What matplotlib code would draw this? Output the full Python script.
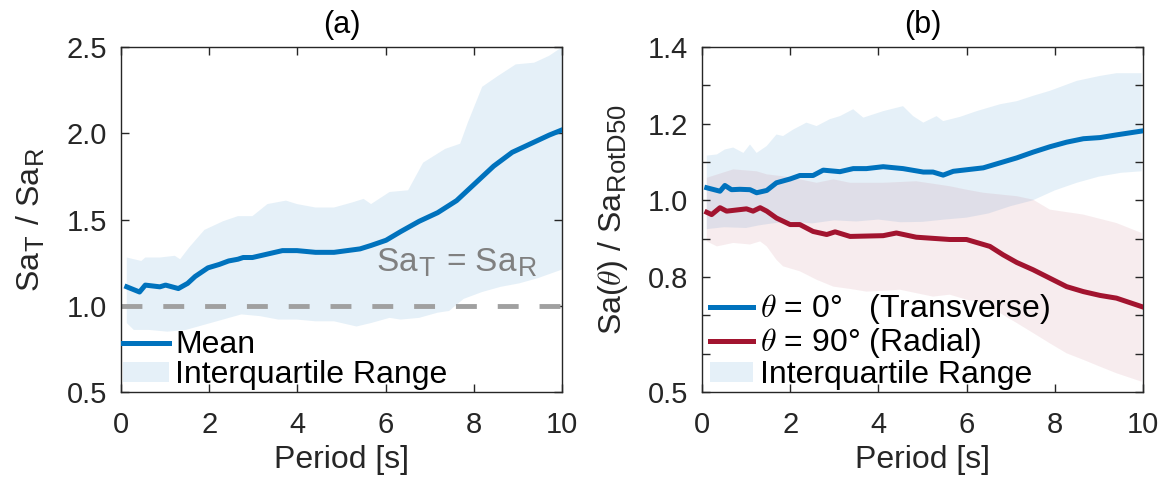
import matplotlib
matplotlib.use('Agg')
import matplotlib.pyplot as plt
import matplotlib._mathtext as mathtext_mod
import numpy as np
from matplotlib.patches import Patch
from matplotlib.lines import Line2D

# ---- panel (a): Sa_T / Sa_R ----
a_mean_x = [0.13, 0.42, 0.55, 0.88, 1.01, 1.30, 1.51, 1.68, 1.97, 2.23, 2.44, 2.65, 2.77, 2.98,
            3.32, 3.66, 3.99, 4.41, 4.83, 5.42, 5.67, 6.01, 6.34, 6.76, 7.18, 7.61, 8.03, 8.45,
            8.87, 9.29, 9.71, 10.0]
a_mean_y = [1.11, 1.08, 1.12, 1.11, 1.12, 1.10, 1.13, 1.17, 1.22, 1.24, 1.26, 1.27, 1.28, 1.28,
            1.30, 1.32, 1.32, 1.31, 1.31, 1.33, 1.35, 1.38, 1.43, 1.49, 1.54, 1.61, 1.71, 1.81,
            1.89, 1.94, 1.99, 2.02]
a_up_x = [0.13, 0.46, 0.55, 0.88, 1.22, 1.34, 1.55, 1.89, 2.31, 2.65, 2.98, 3.32, 3.74, 3.99,
          4.41, 4.83, 5.25, 5.50, 5.67, 6.09, 6.51, 6.85, 7.35, 7.69, 7.86, 8.19, 8.53, 8.95,
          9.37, 9.71, 10.0]
a_up_y = [1.28, 1.26, 1.28, 1.28, 1.29, 1.27, 1.34, 1.44, 1.49, 1.52, 1.52, 1.59, 1.61, 1.59,
          1.57, 1.57, 1.60, 1.62, 1.59, 1.66, 1.67, 1.83, 1.91, 1.94, 2.06, 2.27, 2.33, 2.40,
          2.41, 2.45, 2.50]
a_lo_x = [0.13, 0.29, 0.63, 1.05, 1.47, 1.89, 2.31, 2.73, 3.15, 3.57, 3.99, 4.41, 4.83, 5.34,
          5.67, 6.09, 6.34, 6.76, 7.18, 7.44, 7.77, 8.19, 8.61, 9.03, 9.45, 10.0]
a_lo_y = [0.90, 0.86, 0.86, 0.85, 0.86, 0.89, 0.92, 0.95, 0.94, 0.92, 0.92, 0.91, 0.91, 0.88,
          0.90, 0.93, 0.92, 0.93, 0.96, 0.97, 1.04, 1.08, 1.11, 1.13, 1.16, 1.21]

# ---- panel (b): Sa(theta) / Sa_RotD50 ----
b_tr_x = [0.11, 0.41, 0.52, 0.67, 0.86, 1.09, 1.24, 1.47, 1.69, 2.00, 2.22, 2.52, 2.75, 3.13,
          3.43, 3.73, 4.11, 4.56, 5.02, 5.24, 5.47, 5.70, 6.38, 6.76, 7.14, 7.51, 7.89, 8.27,
          8.65, 9.03, 9.40, 9.97]
b_tr_y = [1.033, 1.024, 1.039, 1.028, 1.029, 1.028, 1.020, 1.026, 1.046, 1.056, 1.065, 1.065,
          1.079, 1.075, 1.083, 1.083, 1.088, 1.083, 1.074, 1.074, 1.066, 1.076, 1.085, 1.098,
          1.111, 1.126, 1.140, 1.152, 1.161, 1.164, 1.171, 1.181]
b_tr_up_x = [0.11, 0.34, 0.52, 0.71, 0.94, 1.09, 1.24, 1.47, 1.69, 1.84, 2.07, 2.37, 2.60, 2.90,
             3.13, 3.43, 3.66, 4.11, 4.56, 4.79, 5.02, 5.32, 5.47, 5.85, 6.23, 6.76, 7.14, 7.51,
             7.89, 8.50, 9.03, 9.40, 9.97]
b_tr_up_y = [1.117, 1.120, 1.133, 1.138, 1.124, 1.146, 1.124, 1.142, 1.172, 1.168, 1.185, 1.203,
             1.194, 1.212, 1.220, 1.238, 1.216, 1.233, 1.246, 1.220, 1.203, 1.220, 1.207, 1.218,
             1.233, 1.251, 1.259, 1.273, 1.286, 1.312, 1.325, 1.332, 1.332]
b_tr_lo_x = [0.11, 0.5, 1.0, 1.3, 1.6, 2.0, 2.5, 3.0, 3.5, 4.0, 4.5, 5.0, 5.5, 6.0, 6.5, 7.0,
             7.5, 8.0, 8.5, 9.0, 9.5, 9.97]
b_tr_lo_y = [0.925, 0.930, 0.928, 0.935, 0.940, 0.945, 0.940, 0.948, 0.945, 0.950, 0.943, 0.944,
             0.950, 0.955, 0.966, 0.985, 1.000, 1.026, 1.046, 1.062, 1.072, 1.076]

b_ra_x = [0.11, 0.22, 0.41, 0.56, 0.86, 1.01, 1.16, 1.32, 1.47, 1.69, 2.00, 2.22, 2.52, 2.83,
          3.02, 3.36, 4.11, 4.41, 4.86, 5.62, 6.00, 6.53, 6.83, 7.14, 7.51, 7.89, 8.27, 8.65,
          9.03, 9.40, 9.97]
b_ra_y = [0.969, 0.963, 0.981, 0.972, 0.976, 0.978, 0.972, 0.981, 0.972, 0.954, 0.937, 0.937,
          0.919, 0.911, 0.918, 0.906, 0.908, 0.915, 0.904, 0.898, 0.898, 0.880, 0.858, 0.838,
          0.819, 0.797, 0.775, 0.762, 0.752, 0.745, 0.723]
b_ra_up_x = [0.11, 0.71, 1.24, 1.47, 1.84, 2.22, 2.60, 2.98, 3.36, 4.11, 4.86, 5.62, 6.00,
             6.38, 7.14, 7.51, 7.89, 8.65, 9.40, 9.97]
b_ra_up_y = [1.059, 1.081, 1.076, 1.068, 1.063, 1.055, 1.046, 1.055, 1.046, 1.046, 1.050, 1.037,
             1.028, 1.020, 1.011, 1.002, 0.976, 0.963, 0.941, 0.915]
b_ra_lo_x = [0.11, 0.34, 0.71, 1.09, 1.32, 1.47, 1.69, 1.84, 2.22, 2.60, 2.98, 3.36, 3.73,
             4.11, 4.49, 4.86, 5.24, 5.62, 6.00, 6.38, 6.76, 7.14, 7.51, 7.89, 8.27, 8.65,
             9.03, 9.40, 9.97]
b_ra_lo_y = [0.893, 0.880, 0.889, 0.885, 0.893, 0.880, 0.845, 0.828, 0.815, 0.793, 0.775,
             0.769, 0.762, 0.764, 0.767, 0.758, 0.749, 0.754, 0.741, 0.732, 0.706, 0.680,
             0.654, 0.627, 0.601, 0.584, 0.566, 0.549, 0.527]

x_ticks = [0, 2, 4, 6, 8, 10]
a_yticks = [0.5, 1.0, 1.5, 2.0, 2.5]
a_yticklabels = ['0.5', '1.0', '1.5', '2.0', '2.5']
b_yticks = [0.5, 0.6, 0.7, 0.8, 0.9, 1.0, 1.1, 1.2, 1.3, 1.4]
b_yticklabels = ['0.5', '', '', '0.8', '', '1.0', '', '1.2', '', '1.4']

BLUE = '#0072BD'
RED = '#A2142F'
AXC = '#262626'
TSIZE = 21
LSIZE = 23
GSIZE = 24
LEGSIZE = 23

# MATLAB-style larger subscripts
mathtext_mod.SHRINK_FACTOR = 0.8


def band(ax, ux, uy, lx, ly, color, alpha):
  px = np.concatenate([ux, lx[::-1]])
  py = np.concatenate([uy, ly[::-1]])
  ax.fill(px, py, color=color, alpha=alpha, lw=0, zorder=1)


def finish(ax, yticks, yticklabels, ylim):
  ax.set_xlim(0, 10)
  ax.set_ylim(*ylim)
  ax.set_xticks(x_ticks)
  ax.set_xticklabels([str(v) for v in x_ticks])
  ax.set_yticks(yticks)
  ax.set_yticklabels(yticklabels)
  ax.tick_params(direction='in', top=True, right=True, length=6, width=1,
                 color=AXC, labelcolor=AXC, labelsize=TSIZE)
  ax.tick_params(axis='y', pad=10)
  ax.tick_params(axis='x', pad=14)
  for s in ax.spines.values():
    s.set_color(AXC)
    s.set_linewidth(1.0)
  ax.set_xlabel('Period [s]', fontsize=LSIZE, color=AXC, labelpad=4)


plt.rcParams['font.family'] = ['Liberation Sans', 'DejaVu Sans']
plt.rcParams['mathtext.fontset'] = 'cm'

fig = plt.figure(figsize=(11.66, 4.79), dpi=100)
ax1 = fig.add_axes([0.1038, 0.1816, 0.3782, 0.720])
ax2 = fig.add_axes([0.6020, 0.1816, 0.3782, 0.720])

# (a)
band(ax1, a_up_x, a_up_y, a_lo_x, a_lo_y, BLUE, 0.1)
ax1.axhline(1.0, color='#A0A0A0', lw=3.5, ls=(0, (4.3, 4.3)), zorder=2)
ax1.plot(a_mean_x, a_mean_y, color=BLUE, lw=3.6, zorder=3)
ax1.text(5.78, 1.2, r'Sa$_\mathregular{T}$ = Sa$_\mathregular{R}$', color='#808080',
         fontsize=GSIZE, ha='left', va='baseline')
finish(ax1, a_yticks, a_yticklabels, (0.5, 2.5))
ax1.set_ylabel(r'Sa$_\mathregular{T}$ / Sa$_\mathregular{R}$', fontsize=LSIZE, color=AXC,
               labelpad=14)
ax1.set_title('(a)', fontsize=22, pad=10)
h1 = [Line2D([], [], color=BLUE, lw=3.6),
      Patch(facecolor=BLUE, alpha=0.1, lw=0)]
ax1.legend(h1, ['Mean', 'Interquartile Range'], loc='lower left', frameon=False,
           fontsize=LEGSIZE, handlelength=1.45, handleheight=0.6, handletextpad=0.2,
           labelspacing=0.0, borderaxespad=0.0, borderpad=0.05)

# (b)
band(ax2, b_tr_up_x, b_tr_up_y, b_tr_lo_x, b_tr_lo_y, BLUE, 0.1)
band(ax2, b_ra_up_x, b_ra_up_y, b_ra_lo_x, b_ra_lo_y, RED, 0.08)
ax2.plot(b_tr_x, b_tr_y, color=BLUE, lw=3.6, zorder=3)
ax2.plot(b_ra_x, b_ra_y, color=RED, lw=3.6, zorder=3)
finish(ax2, b_yticks, b_yticklabels, (0.5, 1.4))
ax2.set_ylabel(r'Sa($\theta$) / Sa$_\mathregular{RotD50}$', fontsize=LSIZE, color=AXC,
               labelpad=13)
ax2.set_title('(b)', fontsize=22, pad=10)
h2 = [Line2D([], [], color=BLUE, lw=3.6),
      Line2D([], [], color=RED, lw=3.6),
      Patch(facecolor=BLUE, alpha=0.1, lw=0)]
ax2.legend(h2, [r'$\theta$ = 0°   (Transverse)', r'$\theta$ = 90° (Radial)',
                'Interquartile Range'], loc='lower left', frameon=False,
           fontsize=LEGSIZE, handlelength=1.35, handleheight=0.6, handletextpad=0.2,
           labelspacing=0.0, borderaxespad=0.0, borderpad=0.05, bbox_to_anchor=(0.015, 0.0))

fig.savefig('out.png', dpi=100)
